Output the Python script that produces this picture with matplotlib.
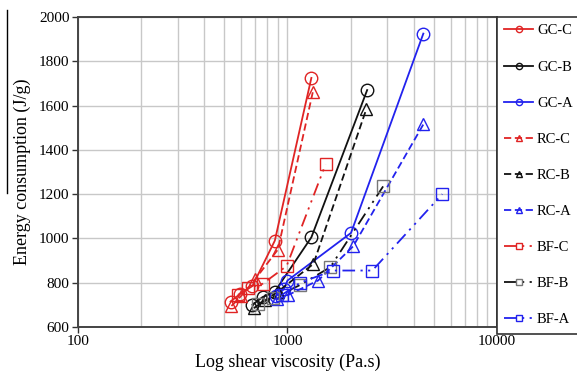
import matplotlib

matplotlib.use("Agg")
import matplotlib.pyplot as plt  # noqa: E402
from matplotlib.lines import Line2D  # noqa: E402
from matplotlib.ticker import FixedLocator, LogLocator, NullFormatter  # noqa: E402

plt.rcParams["font.family"] = ["Liberation Serif", "DejaVu Serif"]

# values (viscosity in Pa.s, energy in J/g)
gc_c_x = [535, 595, 680, 870, 1300]
gc_c_y = [715, 750, 785, 990, 1725]
gc_b_x = [680, 760, 870, 1300, 2400]
gc_b_y = [700, 735, 760, 1005, 1670]
gc_a_x = [880, 960, 1000, 2010, 4450]
gc_a_y = [740, 770, 810, 1025, 1925]
rc_c_x = [540, 600, 700, 900, 1320]
rc_c_y = [695, 740, 815, 950, 1660]
rc_b_x = [690, 780, 900, 1330, 2380]
rc_b_y = [685, 720, 760, 885, 1585]
rc_a_x = [890, 1010, 1400, 2060, 4450]
rc_a_y = [725, 745, 810, 965, 1515]
bf_c_x = [580, 650, 760, 990, 1520]
bf_c_y = [745, 775, 795, 875, 1335]
bf_b_x = [720, 850, 1150, 1600, 2860]
bf_b_y = [705, 730, 790, 870, 1235]
bf_a_x = [940, 1150, 1650, 2540, 5480]
bf_a_y = [745, 800, 855, 855, 1200]

y_ticks = [600, 800, 1000, 1200, 1400, 1600, 1800, 2000]

RED = "#e02424"
BLACK = "#111111"
BLUE = "#2222ee"
DASH = (4, 2)
DASH_DOT_DOT = (7, 3, 1.2, 3, 1.2, 3)

series = [
    ("GC-C", gc_c_x, gc_c_y, RED, "-", "o", RED),
    ("GC-B", gc_b_x, gc_b_y, BLACK, "-", "o", BLACK),
    ("GC-A", gc_a_x, gc_a_y, BLUE, "-", "o", BLUE),
    ("RC-C", rc_c_x, rc_c_y, RED, DASH, "^", RED),
    ("RC-B", rc_b_x, rc_b_y, BLACK, DASH, "^", BLACK),
    ("RC-A", rc_a_x, rc_a_y, BLUE, DASH, "^", BLUE),
    ("BF-C", bf_c_x, bf_c_y, RED, DASH_DOT_DOT, "s", RED),
    ("BF-B", bf_b_x, bf_b_y, BLACK, DASH_DOT_DOT, "s", "#777777"),
    ("BF-A", bf_a_x, bf_a_y, BLUE, DASH_DOT_DOT, "s", BLUE),
]

fig = plt.figure(figsize=(5.77, 3.78), dpi=100)
ax = fig.add_axes([78 / 577, 1 - 327 / 378, (497 - 78) / 577, (327 - 17) / 378])

for label, xs, ys, color, style, marker, edge in series:
    line, = ax.plot(xs, ys, color=color, lw=1.3, marker=marker, markersize=9,
                    markerfacecolor="none", markeredgecolor=edge, markeredgewidth=1.0,
                    label=label)
    if isinstance(style, tuple):
        line.set_dashes(style)
    else:
        line.set_linestyle(style)

ax.set_xscale("log")
ax.set_xlim(100, 10000)
ax.set_ylim(600, 2000)
ax.set_yticks(y_ticks)
ax.xaxis.set_major_locator(FixedLocator([100, 1000, 10000]))
ax.xaxis.set_minor_locator(LogLocator(base=10, subs=range(2, 10)))
ax.xaxis.set_minor_formatter(NullFormatter())
ax.set_xticklabels(["100", "1000", "10000"])

ax.grid(True, which="both", axis="x", color="#c8c8c8", lw=1.0)
ax.grid(True, which="major", axis="y", color="#c8c8c8", lw=1.0)
ax.set_axisbelow(True)
ax.tick_params(axis="both", which="major", labelsize=11, length=4, width=1.0,
               color="#333333", pad=2)
ax.tick_params(axis="x", which="minor", length=0)
for side in ["left", "bottom", "top", "right"]:
    ax.spines[side].set_color("#444444")
    ax.spines[side].set_linewidth(1.4)

ax.set_xlabel("Log shear viscosity (Pa.s)", fontsize=13, labelpad=4)
ax.set_ylabel("Energy consumption (J/g)", fontsize=13, labelpad=6)

leg = ax.legend(loc="upper left", bbox_to_anchor=(1.0, 1.0), borderaxespad=0,
                fontsize=10.5, labelspacing=1.57, handlelength=2.0, handletextpad=0.25,
                markerscale=0.5, fancybox=False, framealpha=1, borderpad=0.5)
leg.get_frame().set_edgecolor("#333333")
leg.get_frame().set_linewidth(1.2)

# stray border line at the left edge of the original crop
fig.add_artist(Line2D([7 / 577, 7 / 577], [1 - 10 / 378, 1 - 193 / 378],
                      color="black", lw=1.0))

fig.savefig("out.png", dpi=100)
